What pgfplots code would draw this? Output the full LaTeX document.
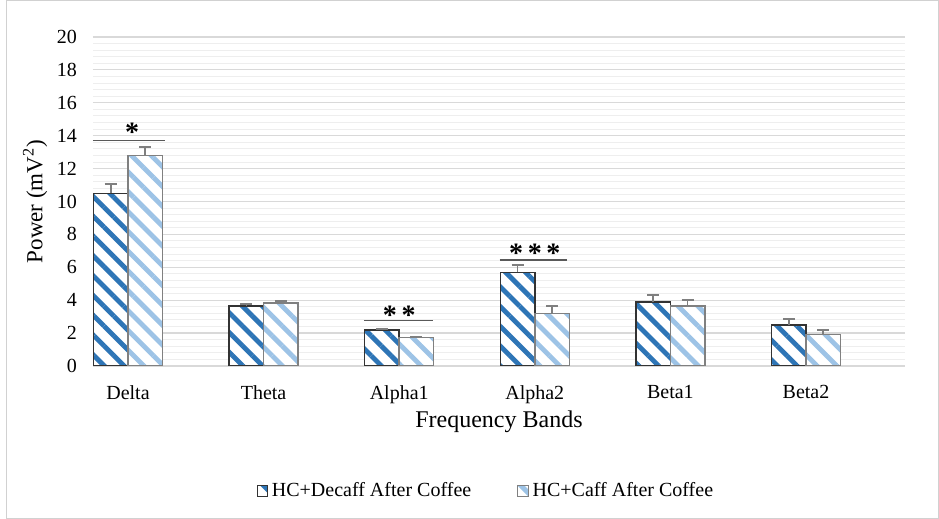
\documentclass[border=0pt]{standalone}
\usepackage{pgfplots}
\pgfplotsset{compat=1.18}
\usepackage{fontspec}
\setmainfont{Liberation Serif}
\usetikzlibrary{patterns.meta}

\definecolor{darkstripe}{HTML}{2E75B6}
\definecolor{lightstripe}{HTML}{9DC3E6}
\definecolor{gridmajor}{HTML}{D9D9D9}
\definecolor{gridminor}{HTML}{EEEEEE}
\definecolor{errgray}{HTML}{7F7F7F}

\begin{document}
\begin{tikzpicture}
\useasboundingbox (-46.5pt,-76.5pt) rectangle (423pt,183pt);
\begin{axis}[
  scale only axis,
  width=406pt, height=164.5pt,
  xmin=-0.258, xmax=5.73,
  ymin=0, ymax=20,
  ytick={0,2,...,20},
  minor y tick num=4,
  ymajorgrids, yminorgrids,
  major grid style={gridmajor, line width=0.6pt},
  minor grid style={gridminor, line width=0.5pt},
  axis lines*=left,
  y axis line style={draw=none},
  x axis line style={gridmajor, line width=0.8pt},
  tick style={draw=none},
  xtick={0,...,5},
  xticklabels={Delta,Theta,Alpha1,Alpha2,Beta1,Beta2},
  /pgf/number format/assume math mode=true,
  ticklabel style={font=\fontsize{10}{12}\selectfont},
  xticklabel style={yshift=-2pt},
  yticklabel style={xshift=-4.5pt},
  xlabel={Frequency Bands},
  ylabel={Power (mV\textsuperscript{2})},
  xlabel style={font=\fontsize{12}{14}\selectfont, at={(axis description cs:0.5,-0.17)}, anchor=center},
  ylabel style={font=\fontsize{11.5}{14}\selectfont, at={(axis description cs:-0.0714,0.5)}, anchor=center},
  ybar,
  bar width=17.25pt,
  legend columns=2,
  legend style={at={(axis description cs:0.485,-0.38)}, anchor=center, draw=none,
    font=\fontsize{10}{12}\selectfont,
    /tikz/every even column/.append style={column sep=21pt}},
  legend image code/.code={\draw[#1, line width=0.5pt] (0pt,-2.6pt) rectangle (5.2pt,2.6pt);},
]
% HC + decaffeinated coffee
\addplot[draw=black!80, line width=0.7pt, fill=white,
  postaction={pattern={Lines[angle=-45,distance=7pt,line width=2.4pt]}, pattern color=darkstripe},
  bar shift=-8.625pt,
  error bars/.cd, y dir=plus, y explicit,
  error bar style={errgray, line width=0.8pt},
  error mark options={rotate=90, errgray, mark size=3pt, line width=0.8pt}]
coordinates {
  (0,10.5) +- (0,0.55)
  (1,3.65) +- (0,0.12)
  (2,2.2)  +- (0,0.05)
  (3,5.7)  +- (0,0.45)
  (4,3.9)  +- (0,0.4)
  (5,2.5)  +- (0,0.35)
};
% HC + caffeinated coffee
\addplot[draw=black!50, line width=0.7pt, fill=white,
  postaction={pattern={Lines[angle=-45,distance=7pt,line width=2.4pt]}, pattern color=lightstripe},
  bar shift=8.625pt,
  error bars/.cd, y dir=plus, y explicit,
  error bar style={errgray, line width=0.8pt},
  error mark options={rotate=90, errgray, mark size=3pt, line width=0.8pt}]
coordinates {
  (0,12.8) +- (0,0.5)
  (1,3.83) +- (0,0.12)
  (2,1.75) +- (0,0.05)
  (3,3.2)  +- (0,0.45)
  (4,3.65) +- (0,0.35)
  (5,1.9)  +- (0,0.3)
};
\legend{HC+Decaff After Coffee, HC+Caff After Coffee}

% significance brackets
\draw[black!65, line width=0.7pt] (axis cs:-0.258,13.7) -- (axis cs:0.27,13.7);
\node[font=\fontsize{14}{16}\selectfont\bfseries] at (axis cs:0.03,14.2) {*};
\draw[black!65, line width=0.7pt] (axis cs:1.74,2.75) -- (axis cs:2.25,2.75);
\node[font=\fontsize{14}{16}\selectfont\bfseries] at (axis cs:2.0,3.1) {*\,*};
\draw[black!65, line width=0.7pt] (axis cs:2.74,6.45) -- (axis cs:3.24,6.45);
\node[font=\fontsize{14}{16}\selectfont\bfseries] at (axis cs:3.0,6.85) {*\,*\,*};
\end{axis}
\draw[black!18, line width=0.5pt] (-43pt,-76.25pt) rectangle (422.75pt,182.75pt);
\end{tikzpicture}
\end{document}
